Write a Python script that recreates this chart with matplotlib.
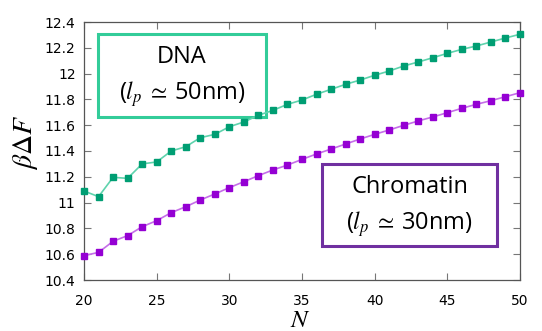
import matplotlib
matplotlib.use("Agg")
import matplotlib.pyplot as plt
import numpy as np

N = list(range(20, 51))
dna = [11.09, 11.046, 11.196, 11.188, 11.30, 11.315, 11.40, 11.433, 11.503, 11.529,
       11.588, 11.625, 11.677, 11.715, 11.762, 11.795, 11.84, 11.878, 11.917, 11.95,
       11.987, 12.02, 12.059, 12.09, 12.123, 12.157, 12.188, 12.214, 12.245, 12.276, 12.305]
chromatin = [10.589, 10.614, 10.70, 10.744, 10.813, 10.86, 10.922, 10.968, 11.02, 11.067,
             11.116, 11.162, 11.209, 11.253, 11.291, 11.335, 11.377, 11.415, 11.454, 11.493,
             11.529, 11.563, 11.599, 11.633, 11.664, 11.697, 11.731, 11.762, 11.79, 11.821, 11.852]
xticks = [20, 25, 30, 35, 40, 45, 50]
yticks = [10.4, 10.6, 10.8, 11.0, 11.2, 11.4, 11.6, 11.8, 12.0, 12.2, 12.4]
ytick_labels = ["10.4", "10.6", "10.8", "11", "11.2", "11.4", "11.6", "11.8", "12", "12.2", "12.4"]

plt.rcParams['mathtext.fontset'] = 'stix'
fig = plt.figure(figsize=(5.42, 3.31), dpi=100)
ax = fig.add_axes([84/542, 1-280/331, (520-84)/542, (280-22)/331])

green_m = "#009E73"
green_l = "#5fd3ad"
purple_m = "#9400D3"
purple_l = "#c56ee8"

ax.plot(N, dna, color=green_l, lw=1.2, zorder=2)
ax.plot(N, dna, ls='none', marker='s', ms=3.8, color=green_m, zorder=3, clip_on=False)
ax.plot(N, chromatin, color=purple_l, lw=1.2, zorder=2)
ax.plot(N, chromatin, ls='none', marker='s', ms=3.8, color=purple_m, zorder=3, clip_on=False)

ax.set_xlim(20, 50)
ax.set_ylim(10.4, 12.4)
ax.set_xticks(xticks)
ax.set_yticks(yticks)
ax.set_yticklabels(ytick_labels)
ax.tick_params(direction='in', length=5, width=0.8, color='#777777', labelsize=10,
               top=True, right=True)
ax.tick_params(axis='x', pad=10)
ax.tick_params(axis='y', pad=6)
for s in ax.spines.values():
    s.set_color('#555555')
    s.set_linewidth(0.9)

fig.text(26/542, 1-142/331, r'$\beta\Delta F$', rotation=90, fontsize=20,
         ha='center', va='center')
fig.text(300/542, 1-327/331, r'$N$', fontsize=18, ha='center', va='baseline')

# annotation boxes (drawn below the data markers)
def box(x0, y0, x1, y1, color, line1, line2):
    r = plt.Rectangle((x0/542, 1-y1/331), (x1-x0)/542, (y1-y0)/331,
                      transform=fig.transFigure, fill=True, facecolor='white',
                      edgecolor=color, lw=2.2, zorder=1.5)
    ax.add_patch(r)
    cx = (x0+x1)/2/542
    ax.text(cx, 1-(y0+(y1-y0)*0.28)/331, line1, fontsize=17, ha='center', va='center',
            family='Open Sans', transform=fig.transFigure, zorder=1.6)
    ax.text(cx, 1-(y0+(y1-y0)*0.73)/331, line2, fontsize=17, ha='center', va='center',
            family='Open Sans', transform=fig.transFigure, zorder=1.6)

box(98, 34, 266, 117, "#33cc99", "DNA", r"($l_p\;\simeq\;$50nm)")
box(322, 164, 497, 246, "#7030A0", "Chromatin", r"($l_p\;\simeq\;$30nm)")

fig.savefig("out.png", dpi=100)
